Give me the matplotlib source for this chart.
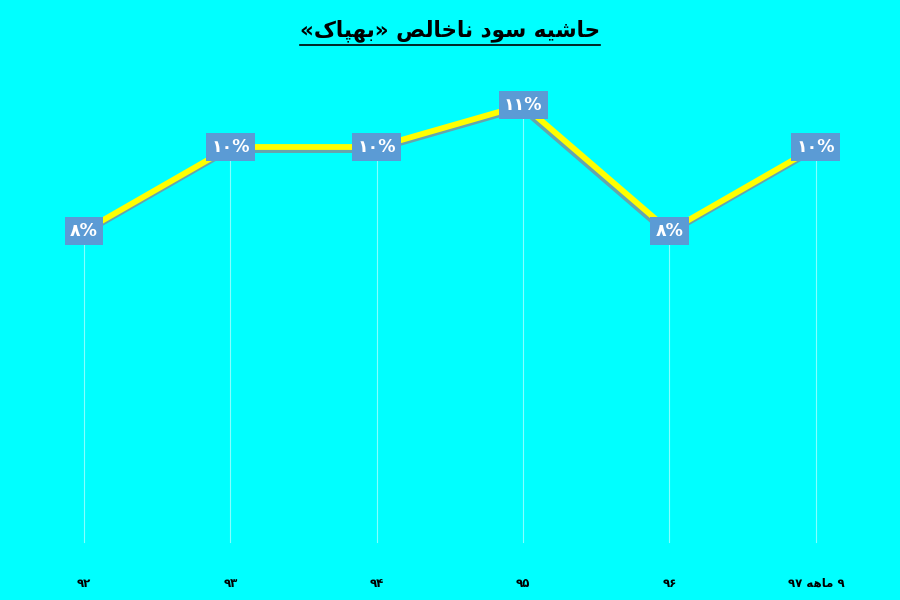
import matplotlib
matplotlib.use("Agg")
import matplotlib.pyplot as plt
import matplotlib.patheffects as pe

# data (Persian labels, written in visual order with presentation forms since matplotlib does no shaping)
years = ["\u06f9\u06f2", "\u06f9\u06f3", "\u06f9\u06f4", "\u06f9\u06f5", "\u06f9\u06f6",
         "\u06f9\u06f7 \ufeea\ufeeb\ufe8e\ufee3 \u06f9"]
margin = [8, 10, 10, 11, 8, 10]
labels = ["\u06f8%", "\u06f1\u06f0%", "\u06f1\u06f0%", "\u06f1\u06f1%", "\u06f8%", "\u06f1\u06f0%"]

# title: حاشیه سود ناخالص «بهپاک»
title = ("\u00ab" + "\ufb8e\ufe8e\ufb59\ufeec\ufe91" + "\u00bb " +
         "\ufeba\ufedf\ufe8e\ufea7\ufe8e\ufee7 " +
         "\ufea9\ufeee\ufeb3 " +
         "\ufeea\ufbff\ufeb7\ufe8e\ufea3")

bg = "#00FFFF"
fig = plt.figure(figsize=(9, 6), dpi=100, facecolor=bg)
ax = fig.add_axes([11/900, 1 - 567/600, 878/900, 507/600])
ax.set_facecolor(bg)

x = list(range(len(years)))

# drop lines from each point
for xi, v in zip(x, margin):
    ax.plot([xi, xi], [0.6, v], color="#f0ffff", lw=0.8, alpha=0.55, zorder=1)

ax.plot(x, margin, color="#FFFF00", lw=4.2, solid_capstyle="butt", zorder=2,
        path_effects=[pe.SimpleLineShadow(offset=(-1.2, -2.2), shadow_color="#7f8f99", alpha=0.8),
                      pe.Normal()])

for xi, v, t in zip(x, margin, labels):
    ax.text(xi, v, t, ha="center", va="center", color="white", fontsize=12.5, fontweight="bold",
            family=["DejaVu Sans"], zorder=5,
            bbox=dict(boxstyle="square,pad=0.3", fc="#5B9BD5", ec="none"))

ax.set_xlim(-0.5, 5.5)
ax.set_ylim(0, 507/42)
ax.set_xticks(x)
ax.set_xticklabels(years, fontsize=8.5, fontweight="bold", family=["DejaVu Sans"])
ax.tick_params(axis="x", length=0, pad=7)
ax.set_yticks([])
for s in ax.spines.values():
    s.set_visible(False)

t = fig.text(0.5, 1 - 31/600, title, ha="center", va="center", fontsize=15.5, fontweight="bold",
             family=["DejaVu Sans"])
fig.canvas.draw()
bb = t.get_window_extent().transformed(fig.transFigure.inverted())
fig.add_artist(plt.Line2D([bb.x0, bb.x1], [bb.y0 - 0.004, bb.y0 - 0.004], color="black", lw=1.2,
                          transform=fig.transFigure))

fig.savefig("out.png", dpi=100, facecolor=bg)
